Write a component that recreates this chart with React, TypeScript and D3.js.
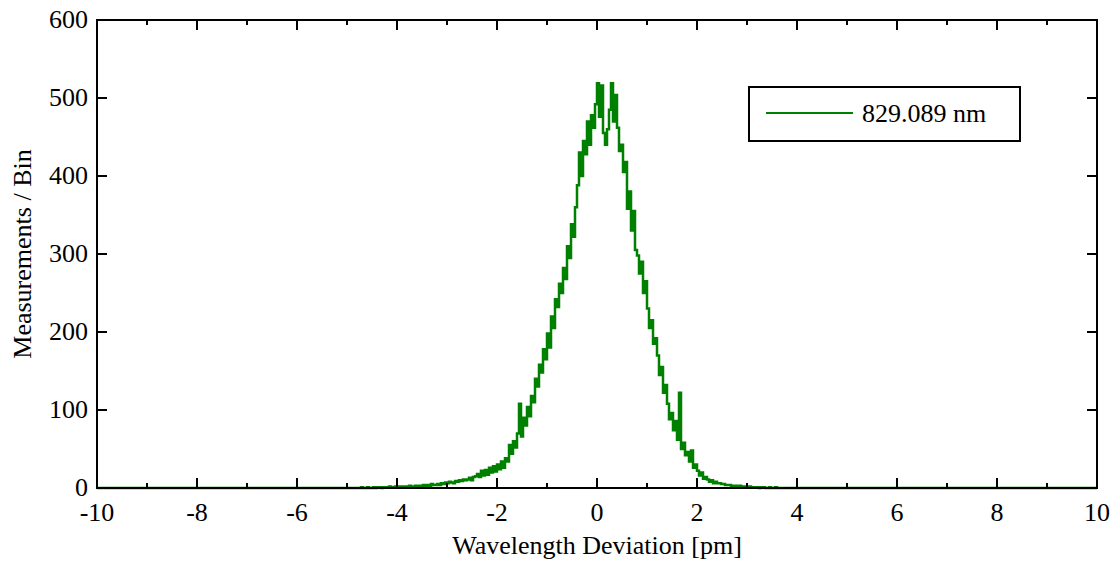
import React from "react";
import * as d3 from "d3";

// Histogram bins: left edge start, width (pm)
const binStart = -4.8;
const binWidth = 0.04;
// counts per bin, from -4.8 pm upward in 0.04 pm steps
const counts: number[] = [
  0, 0, 1, 0, 0, // -4.8
  1, 0, 0, 1, 0, // -4.6
  1, 1, 0, 1, 1, // -4.4
  1, 2, 1, 1, 2, // -4.2
  1, 2, 2, 1, 2, // -4.0
  2, 3, 2, 2, 3, // -3.8
  3, 2, 3, 4, 3, // -3.6
  4, 3, 5, 4, 4, // -3.4
  5, 4, 6, 5, 7, // -3.2
  6, 8, 7, 6, 9, // -3.0
  8, 10, 9, 11, 10, // -2.8
  11, 13, 10, 14, 15, // -2.6
  18, 14, 22, 16, 23, // -2.4
  17, 26, 20, 28, 21, // -2.2
  30, 24, 34, 26, 38, // -2.0
  34, 55, 44, 60, 52, // -1.8
  70, 108, 66, 90, 80, // -1.6
  104, 92, 118, 110, 140, // -1.4
  130, 158, 148, 178, 165, // -1.2
  198, 180, 220, 205, 242, // -1.0
  232, 262, 250, 282, 268, // -0.8
  310, 295, 338, 322, 360, // -0.6
  388, 430, 400, 445, 428, // -0.4
  470, 440, 478, 462, 492, // -0.2
  519, 476, 516, 455, 440, // 0.0
  460, 485, 519, 470, 504, // 0.2
  462, 432, 440, 405, 418, // 0.4
  358, 380, 330, 355, 305, // 0.6
  298, 275, 290, 250, 265, // 0.8
  230, 205, 215, 185, 192, // 1.0
  170, 145, 155, 122, 132, // 1.2
  108, 88, 96, 74, 86, // 1.4
  62, 122, 50, 58, 42, // 1.6
  46, 34, 48, 26, 30, // 1.8
  22, 16, 20, 12, 14, // 2.0
  11, 8, 10, 6, 8, // 2.2
  6, 6, 5, 5, 4, // 2.4
  4, 4, 3, 3, 3, // 2.6
  2, 3, 2, 2, 2, // 2.8
  1, 2, 1, 1, 1, // 3.0
  1, 0, 1, 1, 0, // 3.2
  0, 1, 0, 0, 1, // 3.4
];

const xMajorTicks = [-10, -8, -6, -4, -2, 0, 2, 4, 6, 8, 10];
const xMinorTicks = [-9, -7, -5, -3, -1, 1, 3, 5, 7, 9];
const yTicks = [0, 100, 200, 300, 400, 500, 600];
const legendLabel = "829.089 nm";
const xTitle = "Wavelength Deviation [pm]";
const yTitle = "Measurements / Bin";

export default function App() {
  const W = 1116, H = 561;
  const L = 97, R = 1097, T = 20, B = 488;
  const x = d3.scaleLinear().domain([-10, 10]).range([L, R]);
  const y = d3.scaleLinear().domain([0, 600]).range([B, T]);

  const pts: [number, number][] = [];
  pts.push([-10, 0]);
  counts.forEach((c, i) => {
    const x0 = binStart + i * binWidth;
    pts.push([x0, c]);
  });
  pts.push([binStart + counts.length * binWidth, 0]);
  pts.push([10, 0]);
  const line = d3
    .line<[number, number]>()
    .x((d) => x(d[0]))
    .y((d) => y(d[1]))
    .curve(d3.curveStepAfter);

  const font = "'Liberation Serif', 'Times New Roman', serif";
  const fs = 26;

  return (
    <svg
      width={W}
      height={H}
      style={{ position: "absolute", left: 0, top: 0, background: "#fff" }}
      fontFamily={font}
    >
      <rect x={0} y={0} width={W} height={H} fill="#fff" />
      <path d={line(pts) || ""} fill="none" stroke="#008000" strokeWidth={2.5} strokeLinejoin="miter" />
      <rect x={L} y={T} width={R - L} height={B - T} fill="none" stroke="#000" strokeWidth={2} />
      {xMajorTicks.map((t) => (
        <g key={"xM" + t}>
          <line x1={x(t)} x2={x(t)} y1={B} y2={B - 10} stroke="#000" strokeWidth={2} />
          <line x1={x(t)} x2={x(t)} y1={T} y2={T + 10} stroke="#000" strokeWidth={2} />
          <text x={x(t)} y={B + 33} textAnchor="middle" fontSize={fs} fill="#000">
            {t}
          </text>
        </g>
      ))}
      {xMinorTicks.map((t) => (
        <g key={"xm" + t}>
          <line x1={x(t)} x2={x(t)} y1={B} y2={B - 5} stroke="#000" strokeWidth={2} />
          <line x1={x(t)} x2={x(t)} y1={T} y2={T + 5} stroke="#000" strokeWidth={2} />
        </g>
      ))}
      {yTicks.map((t) => (
        <g key={"y" + t}>
          <line x1={L} x2={L + 10} y1={y(t)} y2={y(t)} stroke="#000" strokeWidth={2} />
          <line x1={R} x2={R - 10} y1={y(t)} y2={y(t)} stroke="#000" strokeWidth={2} />
          <text x={L - 9} y={y(t) + 8} textAnchor="end" fontSize={fs} fill="#000">
            {t}
          </text>
        </g>
      ))}
      <text x={(L + R) / 2} y={554} textAnchor="middle" fontSize={fs} fill="#000">
        {xTitle}
      </text>
      <text
        transform={`translate(31, ${(T + B) / 2}) rotate(-90)`}
        textAnchor="middle"
        fontSize={fs}
        fill="#000"
      >
        {yTitle}
      </text>
      <rect x={749} y={87} width={271} height={54} fill="#fff" stroke="#000" strokeWidth={2} />
      <line x1={766} x2={853} y1={113} y2={113} stroke="#008000" strokeWidth={2} />
      <text x={862} y={122} fontSize={fs} fill="#000">
        {legendLabel}
      </text>
    </svg>
  );
}
